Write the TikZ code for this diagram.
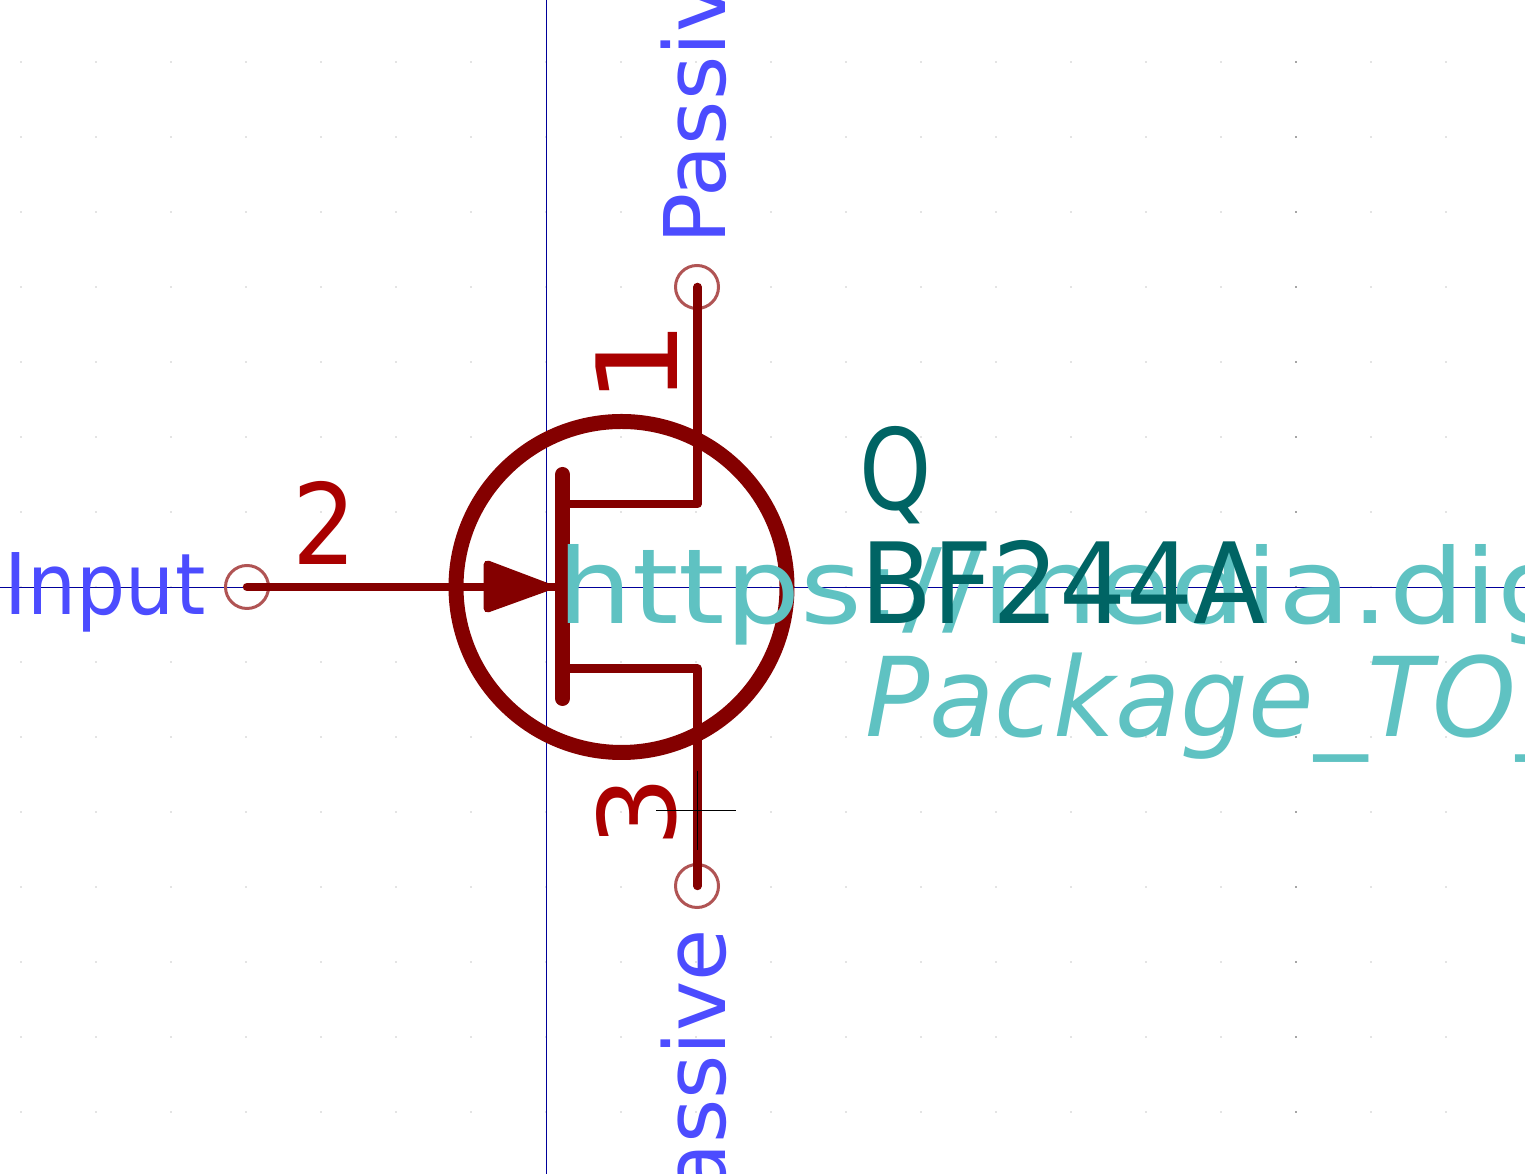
\documentclass[tikz,border=0pt]{standalone}
\usepackage{fontspec}
\setmainfont{DejaVu Sans}
\definecolor{wirec}{HTML}{840000}
\definecolor{pinc}{HTML}{B05454}
\definecolor{numc}{HTML}{A90000}
\definecolor{namec}{HTML}{4C4CFF}
\definecolor{fieldc}{HTML}{006464}
\definecolor{hidec}{HTML}{5FC2C2}
\definecolor{axisc}{HTML}{00009A}
\definecolor{gridc}{HTML}{E4E4E4}
\tikzset{
  txt/.style={inner sep=0pt,outer sep=0pt,transform shape,anchor=base west},
  pinmark/.style={circle,draw=pinc,line width=3pt,minimum size=43pt,inner sep=0pt},
  wire/.style={draw=wirec,line width=8.5pt,line cap=round,line join=round},
  heavy/.style={draw=wirec,line width=15pt,line cap=round},
  axis/.style={draw=axisc,line width=1pt},
  anchormark/.style={draw=black,line width=1pt},
  namefont/.style={font=\fontsize{85}{85}\selectfont,text=namec},
  numfont/.style={font=\fontsize{112}{112}\selectfont,text=numc},
  fieldfont/.style={font=\fontsize{112}{112}\selectfont,text=fieldc},
  hidefont/.style={font=\fontsize{104}{104}\selectfont,text=hidec}
}
\begin{document}
\begin{tikzpicture}[x=1pt,y=1pt]
\useasboundingbox (0,0) rectangle (1525,1174);
\clip (0,0) rectangle (1525,1174);
\fill[white] (0,0) rectangle (1525,1174);
% grid
\foreach \i in {0,...,19}{
  \foreach \j in {0,...,15}{
    \fill[gridc] ({21+75*\i-.6},{1112-75*\j-.6}) rectangle +(1.2,1.2);
  }
}
\foreach \j in {0,...,15}{
  \fill[gray!70] ({1296-.6},{1112-75*\j-.6}) rectangle +(1.2,1.2);
}
% axes
\coordinate (axL) at (0,586.5);
\coordinate (axR) at (1525,586.5);
\coordinate (axT) at (546.5,1174);
\coordinate (axB) at (546.5,0);
\draw[axis] (axL) -- (axR);
\draw[axis] (axT) -- (axB);
% pin marks
\node[pinmark] (pinone) at (697,887) {};
\node[pinmark] (pintwo) at (247,587) {};
\node[pinmark] (pinthree) at (697,288) {};
% body
\node[circle,draw=wirec,line width=15pt,minimum size=331pt,inner sep=0pt] (body) at (621.5,587) {};
% channel
\coordinate (barT) at (562.5,699.5);
\coordinate (barB) at (562.5,475.5);
\coordinate (barG) at (555,587);
\coordinate (drainE) at (697.5,670);
\coordinate (drainW) at (562.5,670);
\coordinate (srcE) at (697.5,505.5);
\coordinate (srcW) at (562.5,505.5);
\draw[heavy] (barT) -- (barB);
\draw[wire] (drainW) -- (drainE) -- (pinone.center -| drainE);
\draw[wire] (srcW) -- (srcE) -- (pinthree.center -| srcE);
\draw[wire] (pintwo.center) -- (barG);
\node[draw=none,inner sep=0pt] (arrowtip) at (547,587) {};
\filldraw[wirec,line width=8pt,line join=round] (487.5,609.5) -- (487.5,565.5) -- (arrowtip.center) -- cycle;
% pin numbers
\node[numfont,inner sep=0pt,anchor=base,xscale=.9,transform shape] (numtwo) at (325,609) {2};
\node[numfont,inner sep=0pt,anchor=base,rotate=90,xscale=1.2,transform shape] (numone) at (677,811) {1};
\node[numfont,inner sep=0pt,anchor=base,rotate=90,yscale=.95,transform shape] (numthree) at (675,362) {3};
% pin names
\node[namefont,txt,xscale=.91] (nameinput) at (5,559) {Input};
\node[namefont,inner sep=0pt,anchor=base west,rotate=90,transform shape] (nametop) at (725,929) {Passive};
\node[namefont,inner sep=0pt,anchor=base east,rotate=90,transform shape] (namebot) at (725,245) {Passive};
% hidden fields
\node[hidefont,txt,xscale=1.14] (datasheet) at (557,550) {https://media.dig};
\node[font=\fontsize{110}{110}\selectfont\itshape,text=hidec,txt,xscale=.97] (footprint) at (865,437) {Package\_TO\_};
% fields
\node[fieldfont,txt,xscale=.82] (refq) at (859,664) {Q};
\node[fieldfont,txt,xscale=.94] (valuetext) at (860,550) {BF244A};
% anchor cross
\coordinate (crL) at (656,363);
\coordinate (crR) at (736,363);
\coordinate (crT) at (697,403);
\coordinate (crB) at (697,324);
\draw[anchormark] (crL) -- (crR);
\draw[anchormark] (crT) -- (crB);
\end{tikzpicture}
\end{document}
